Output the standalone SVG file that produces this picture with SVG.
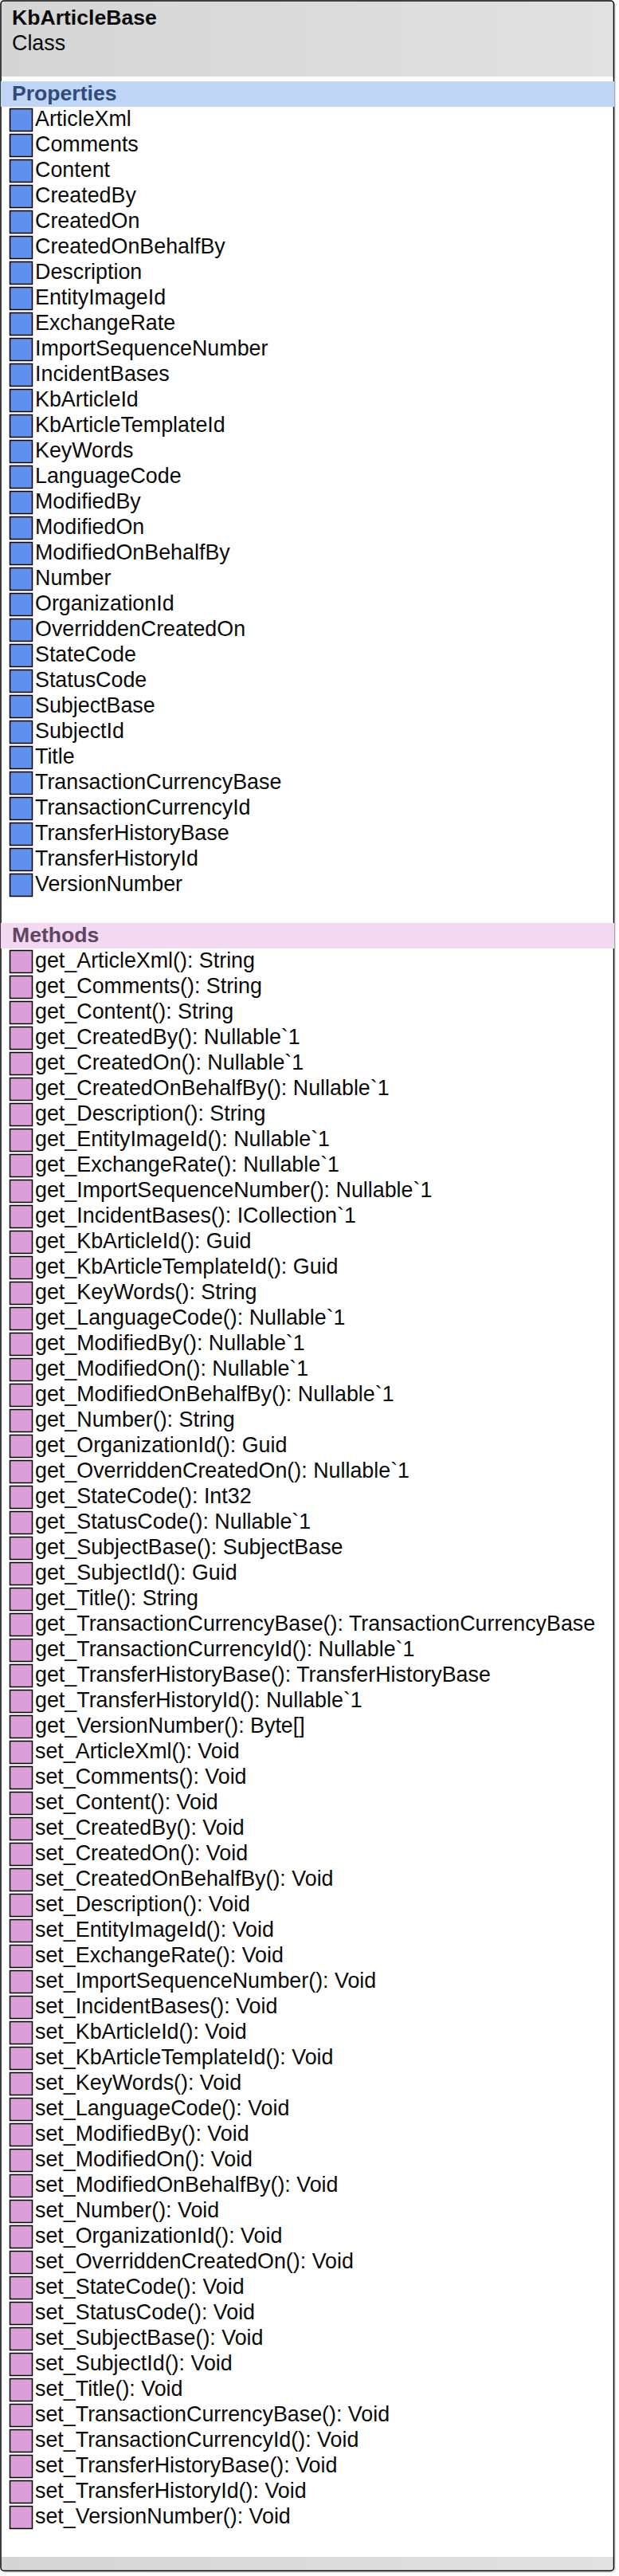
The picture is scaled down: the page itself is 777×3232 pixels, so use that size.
<svg xmlns="http://www.w3.org/2000/svg" width="777" height="3232" viewBox="0 0 777 3232">
<style>
text{font-family:"Liberation Sans",Arial,sans-serif;font-size:26.85px;fill:#0a0a0a}
.b{font-weight:bold;font-size:26.6px}
.ph{fill:#2f4a7d}
.mh{fill:#5f4562}
.p{fill:#5f90ee;stroke:#000;stroke-width:1.5}
.m{fill:#dc9ed8;stroke:#000;stroke-width:1.5}
</style>
<defs>
<linearGradient id="g"><stop offset="0" stop-color="#d5d5d5"/><stop offset="1" stop-color="#e1e1e1"/></linearGradient>
</defs>
<g id="class-KbArticleBase">
<rect x="3" y="3" width="770" height="3225" rx="5" fill="#e2e2e2"/>
<rect x="1" y="1" width="769.5" height="3224.5" rx="4" fill="#fff"/>
<rect x="2" y="2" width="768" height="94" fill="url(#g)"/>
<rect x="2" y="3208" width="768" height="17" fill="url(#g)"/>
<rect x="1" y="1" width="769.5" height="3224.5" rx="4" fill="none" stroke="#000" stroke-width="1.5"/>
<text class="b" x="15" y="31">KbArticleBase</text>
<text x="15" y="63">Class</text>
</g>
<g id="properties">
<rect x="1" y="102" width="770" height="32" fill="#c1d5f6"/>
<text class="b ph" x="15" y="126">Properties</text>
<g id="p-ArticleXml"><rect class="p" x="12.5" y="136.5" width="28" height="28"/><text x="44" y="158">ArticleXml</text></g>
<g id="p-Comments"><rect class="p" x="12.5" y="168.5" width="28" height="28"/><text x="44" y="190">Comments</text></g>
<g id="p-Content"><rect class="p" x="12.5" y="200.5" width="28" height="28"/><text x="44" y="222">Content</text></g>
<g id="p-CreatedBy"><rect class="p" x="12.5" y="232.5" width="28" height="28"/><text x="44" y="254">CreatedBy</text></g>
<g id="p-CreatedOn"><rect class="p" x="12.5" y="264.5" width="28" height="28"/><text x="44" y="286">CreatedOn</text></g>
<g id="p-CreatedOnBehalfBy"><rect class="p" x="12.5" y="296.5" width="28" height="28"/><text x="44" y="318">CreatedOnBehalfBy</text></g>
<g id="p-Description"><rect class="p" x="12.5" y="328.5" width="28" height="28"/><text x="44" y="350">Description</text></g>
<g id="p-EntityImageId"><rect class="p" x="12.5" y="360.5" width="28" height="28"/><text x="44" y="382">EntityImageId</text></g>
<g id="p-ExchangeRate"><rect class="p" x="12.5" y="392.5" width="28" height="28"/><text x="44" y="414">ExchangeRate</text></g>
<g id="p-ImportSequenceNumber"><rect class="p" x="12.5" y="424.5" width="28" height="28"/><text x="44" y="446">ImportSequenceNumber</text></g>
<g id="p-IncidentBases"><rect class="p" x="12.5" y="456.5" width="28" height="28"/><text x="44" y="478">IncidentBases</text></g>
<g id="p-KbArticleId"><rect class="p" x="12.5" y="488.5" width="28" height="28"/><text x="44" y="510">KbArticleId</text></g>
<g id="p-KbArticleTemplateId"><rect class="p" x="12.5" y="520.5" width="28" height="28"/><text x="44" y="542">KbArticleTemplateId</text></g>
<g id="p-KeyWords"><rect class="p" x="12.5" y="552.5" width="28" height="28"/><text x="44" y="574">KeyWords</text></g>
<g id="p-LanguageCode"><rect class="p" x="12.5" y="584.5" width="28" height="28"/><text x="44" y="606">LanguageCode</text></g>
<g id="p-ModifiedBy"><rect class="p" x="12.5" y="616.5" width="28" height="28"/><text x="44" y="638">ModifiedBy</text></g>
<g id="p-ModifiedOn"><rect class="p" x="12.5" y="648.5" width="28" height="28"/><text x="44" y="670">ModifiedOn</text></g>
<g id="p-ModifiedOnBehalfBy"><rect class="p" x="12.5" y="680.5" width="28" height="28"/><text x="44" y="702">ModifiedOnBehalfBy</text></g>
<g id="p-Number"><rect class="p" x="12.5" y="712.5" width="28" height="28"/><text x="44" y="734">Number</text></g>
<g id="p-OrganizationId"><rect class="p" x="12.5" y="744.5" width="28" height="28"/><text x="44" y="766">OrganizationId</text></g>
<g id="p-OverriddenCreatedOn"><rect class="p" x="12.5" y="776.5" width="28" height="28"/><text x="44" y="798">OverriddenCreatedOn</text></g>
<g id="p-StateCode"><rect class="p" x="12.5" y="808.5" width="28" height="28"/><text x="44" y="830">StateCode</text></g>
<g id="p-StatusCode"><rect class="p" x="12.5" y="840.5" width="28" height="28"/><text x="44" y="862">StatusCode</text></g>
<g id="p-SubjectBase"><rect class="p" x="12.5" y="872.5" width="28" height="28"/><text x="44" y="894">SubjectBase</text></g>
<g id="p-SubjectId"><rect class="p" x="12.5" y="904.5" width="28" height="28"/><text x="44" y="926">SubjectId</text></g>
<g id="p-Title"><rect class="p" x="12.5" y="936.5" width="28" height="28"/><text x="44" y="958">Title</text></g>
<g id="p-TransactionCurrencyBase"><rect class="p" x="12.5" y="968.5" width="28" height="28"/><text x="44" y="990">TransactionCurrencyBase</text></g>
<g id="p-TransactionCurrencyId"><rect class="p" x="12.5" y="1000.5" width="28" height="28"/><text x="44" y="1022">TransactionCurrencyId</text></g>
<g id="p-TransferHistoryBase"><rect class="p" x="12.5" y="1032.5" width="28" height="28"/><text x="44" y="1054">TransferHistoryBase</text></g>
<g id="p-TransferHistoryId"><rect class="p" x="12.5" y="1064.5" width="28" height="28"/><text x="44" y="1086">TransferHistoryId</text></g>
<g id="p-VersionNumber"><rect class="p" x="12.5" y="1096.5" width="28" height="28"/><text x="44" y="1118">VersionNumber</text></g>
</g>
<g id="methods">
<rect x="1" y="1158" width="770" height="32" fill="#f2d8f0"/>
<text class="b mh" x="15" y="1182">Methods</text>
<g id="m-get_ArticleXml"><rect class="m" x="12.5" y="1192.5" width="28" height="28"/><text x="44" y="1214">get_ArticleXml(): String</text></g>
<g id="m-get_Comments"><rect class="m" x="12.5" y="1224.5" width="28" height="28"/><text x="44" y="1246">get_Comments(): String</text></g>
<g id="m-get_Content"><rect class="m" x="12.5" y="1256.5" width="28" height="28"/><text x="44" y="1278">get_Content(): String</text></g>
<g id="m-get_CreatedBy"><rect class="m" x="12.5" y="1288.5" width="28" height="28"/><text x="44" y="1310">get_CreatedBy(): Nullable`1</text></g>
<g id="m-get_CreatedOn"><rect class="m" x="12.5" y="1320.5" width="28" height="28"/><text x="44" y="1342">get_CreatedOn(): Nullable`1</text></g>
<g id="m-get_CreatedOnBehalfBy"><rect class="m" x="12.5" y="1352.5" width="28" height="28"/><text x="44" y="1374">get_CreatedOnBehalfBy(): Nullable`1</text></g>
<g id="m-get_Description"><rect class="m" x="12.5" y="1384.5" width="28" height="28"/><text x="44" y="1406">get_Description(): String</text></g>
<g id="m-get_EntityImageId"><rect class="m" x="12.5" y="1416.5" width="28" height="28"/><text x="44" y="1438">get_EntityImageId(): Nullable`1</text></g>
<g id="m-get_ExchangeRate"><rect class="m" x="12.5" y="1448.5" width="28" height="28"/><text x="44" y="1470">get_ExchangeRate(): Nullable`1</text></g>
<g id="m-get_ImportSequenceNumber"><rect class="m" x="12.5" y="1480.5" width="28" height="28"/><text x="44" y="1502">get_ImportSequenceNumber(): Nullable`1</text></g>
<g id="m-get_IncidentBases"><rect class="m" x="12.5" y="1512.5" width="28" height="28"/><text x="44" y="1534">get_IncidentBases(): ICollection`1</text></g>
<g id="m-get_KbArticleId"><rect class="m" x="12.5" y="1544.5" width="28" height="28"/><text x="44" y="1566">get_KbArticleId(): Guid</text></g>
<g id="m-get_KbArticleTemplateId"><rect class="m" x="12.5" y="1576.5" width="28" height="28"/><text x="44" y="1598">get_KbArticleTemplateId(): Guid</text></g>
<g id="m-get_KeyWords"><rect class="m" x="12.5" y="1608.5" width="28" height="28"/><text x="44" y="1630">get_KeyWords(): String</text></g>
<g id="m-get_LanguageCode"><rect class="m" x="12.5" y="1640.5" width="28" height="28"/><text x="44" y="1662">get_LanguageCode(): Nullable`1</text></g>
<g id="m-get_ModifiedBy"><rect class="m" x="12.5" y="1672.5" width="28" height="28"/><text x="44" y="1694">get_ModifiedBy(): Nullable`1</text></g>
<g id="m-get_ModifiedOn"><rect class="m" x="12.5" y="1704.5" width="28" height="28"/><text x="44" y="1726">get_ModifiedOn(): Nullable`1</text></g>
<g id="m-get_ModifiedOnBehalfBy"><rect class="m" x="12.5" y="1736.5" width="28" height="28"/><text x="44" y="1758">get_ModifiedOnBehalfBy(): Nullable`1</text></g>
<g id="m-get_Number"><rect class="m" x="12.5" y="1768.5" width="28" height="28"/><text x="44" y="1790">get_Number(): String</text></g>
<g id="m-get_OrganizationId"><rect class="m" x="12.5" y="1800.5" width="28" height="28"/><text x="44" y="1822">get_OrganizationId(): Guid</text></g>
<g id="m-get_OverriddenCreatedOn"><rect class="m" x="12.5" y="1832.5" width="28" height="28"/><text x="44" y="1854">get_OverriddenCreatedOn(): Nullable`1</text></g>
<g id="m-get_StateCode"><rect class="m" x="12.5" y="1864.5" width="28" height="28"/><text x="44" y="1886">get_StateCode(): Int32</text></g>
<g id="m-get_StatusCode"><rect class="m" x="12.5" y="1896.5" width="28" height="28"/><text x="44" y="1918">get_StatusCode(): Nullable`1</text></g>
<g id="m-get_SubjectBase"><rect class="m" x="12.5" y="1928.5" width="28" height="28"/><text x="44" y="1950">get_SubjectBase(): SubjectBase</text></g>
<g id="m-get_SubjectId"><rect class="m" x="12.5" y="1960.5" width="28" height="28"/><text x="44" y="1982">get_SubjectId(): Guid</text></g>
<g id="m-get_Title"><rect class="m" x="12.5" y="1992.5" width="28" height="28"/><text x="44" y="2014">get_Title(): String</text></g>
<g id="m-get_TransactionCurrencyBase"><rect class="m" x="12.5" y="2024.5" width="28" height="28"/><text x="44" y="2046">get_TransactionCurrencyBase(): TransactionCurrencyBase</text></g>
<g id="m-get_TransactionCurrencyId"><rect class="m" x="12.5" y="2056.5" width="28" height="28"/><text x="44" y="2078">get_TransactionCurrencyId(): Nullable`1</text></g>
<g id="m-get_TransferHistoryBase"><rect class="m" x="12.5" y="2088.5" width="28" height="28"/><text x="44" y="2110">get_TransferHistoryBase(): TransferHistoryBase</text></g>
<g id="m-get_TransferHistoryId"><rect class="m" x="12.5" y="2120.5" width="28" height="28"/><text x="44" y="2142">get_TransferHistoryId(): Nullable`1</text></g>
<g id="m-get_VersionNumber"><rect class="m" x="12.5" y="2152.5" width="28" height="28"/><text x="44" y="2174">get_VersionNumber(): Byte[]</text></g>
<g id="m-set_ArticleXml"><rect class="m" x="12.5" y="2184.5" width="28" height="28"/><text x="44" y="2206">set_ArticleXml(): Void</text></g>
<g id="m-set_Comments"><rect class="m" x="12.5" y="2216.5" width="28" height="28"/><text x="44" y="2238">set_Comments(): Void</text></g>
<g id="m-set_Content"><rect class="m" x="12.5" y="2248.5" width="28" height="28"/><text x="44" y="2270">set_Content(): Void</text></g>
<g id="m-set_CreatedBy"><rect class="m" x="12.5" y="2280.5" width="28" height="28"/><text x="44" y="2302">set_CreatedBy(): Void</text></g>
<g id="m-set_CreatedOn"><rect class="m" x="12.5" y="2312.5" width="28" height="28"/><text x="44" y="2334">set_CreatedOn(): Void</text></g>
<g id="m-set_CreatedOnBehalfBy"><rect class="m" x="12.5" y="2344.5" width="28" height="28"/><text x="44" y="2366">set_CreatedOnBehalfBy(): Void</text></g>
<g id="m-set_Description"><rect class="m" x="12.5" y="2376.5" width="28" height="28"/><text x="44" y="2398">set_Description(): Void</text></g>
<g id="m-set_EntityImageId"><rect class="m" x="12.5" y="2408.5" width="28" height="28"/><text x="44" y="2430">set_EntityImageId(): Void</text></g>
<g id="m-set_ExchangeRate"><rect class="m" x="12.5" y="2440.5" width="28" height="28"/><text x="44" y="2462">set_ExchangeRate(): Void</text></g>
<g id="m-set_ImportSequenceNumber"><rect class="m" x="12.5" y="2472.5" width="28" height="28"/><text x="44" y="2494">set_ImportSequenceNumber(): Void</text></g>
<g id="m-set_IncidentBases"><rect class="m" x="12.5" y="2504.5" width="28" height="28"/><text x="44" y="2526">set_IncidentBases(): Void</text></g>
<g id="m-set_KbArticleId"><rect class="m" x="12.5" y="2536.5" width="28" height="28"/><text x="44" y="2558">set_KbArticleId(): Void</text></g>
<g id="m-set_KbArticleTemplateId"><rect class="m" x="12.5" y="2568.5" width="28" height="28"/><text x="44" y="2590">set_KbArticleTemplateId(): Void</text></g>
<g id="m-set_KeyWords"><rect class="m" x="12.5" y="2600.5" width="28" height="28"/><text x="44" y="2622">set_KeyWords(): Void</text></g>
<g id="m-set_LanguageCode"><rect class="m" x="12.5" y="2632.5" width="28" height="28"/><text x="44" y="2654">set_LanguageCode(): Void</text></g>
<g id="m-set_ModifiedBy"><rect class="m" x="12.5" y="2664.5" width="28" height="28"/><text x="44" y="2686">set_ModifiedBy(): Void</text></g>
<g id="m-set_ModifiedOn"><rect class="m" x="12.5" y="2696.5" width="28" height="28"/><text x="44" y="2718">set_ModifiedOn(): Void</text></g>
<g id="m-set_ModifiedOnBehalfBy"><rect class="m" x="12.5" y="2728.5" width="28" height="28"/><text x="44" y="2750">set_ModifiedOnBehalfBy(): Void</text></g>
<g id="m-set_Number"><rect class="m" x="12.5" y="2760.5" width="28" height="28"/><text x="44" y="2782">set_Number(): Void</text></g>
<g id="m-set_OrganizationId"><rect class="m" x="12.5" y="2792.5" width="28" height="28"/><text x="44" y="2814">set_OrganizationId(): Void</text></g>
<g id="m-set_OverriddenCreatedOn"><rect class="m" x="12.5" y="2824.5" width="28" height="28"/><text x="44" y="2846">set_OverriddenCreatedOn(): Void</text></g>
<g id="m-set_StateCode"><rect class="m" x="12.5" y="2856.5" width="28" height="28"/><text x="44" y="2878">set_StateCode(): Void</text></g>
<g id="m-set_StatusCode"><rect class="m" x="12.5" y="2888.5" width="28" height="28"/><text x="44" y="2910">set_StatusCode(): Void</text></g>
<g id="m-set_SubjectBase"><rect class="m" x="12.5" y="2920.5" width="28" height="28"/><text x="44" y="2942">set_SubjectBase(): Void</text></g>
<g id="m-set_SubjectId"><rect class="m" x="12.5" y="2952.5" width="28" height="28"/><text x="44" y="2974">set_SubjectId(): Void</text></g>
<g id="m-set_Title"><rect class="m" x="12.5" y="2984.5" width="28" height="28"/><text x="44" y="3006">set_Title(): Void</text></g>
<g id="m-set_TransactionCurrencyBase"><rect class="m" x="12.5" y="3016.5" width="28" height="28"/><text x="44" y="3038">set_TransactionCurrencyBase(): Void</text></g>
<g id="m-set_TransactionCurrencyId"><rect class="m" x="12.5" y="3048.5" width="28" height="28"/><text x="44" y="3070">set_TransactionCurrencyId(): Void</text></g>
<g id="m-set_TransferHistoryBase"><rect class="m" x="12.5" y="3080.5" width="28" height="28"/><text x="44" y="3102">set_TransferHistoryBase(): Void</text></g>
<g id="m-set_TransferHistoryId"><rect class="m" x="12.5" y="3112.5" width="28" height="28"/><text x="44" y="3134">set_TransferHistoryId(): Void</text></g>
<g id="m-set_VersionNumber"><rect class="m" x="12.5" y="3144.5" width="28" height="28"/><text x="44" y="3166">set_VersionNumber(): Void</text></g>
</g>
<g id="connectors"/>
</svg>
